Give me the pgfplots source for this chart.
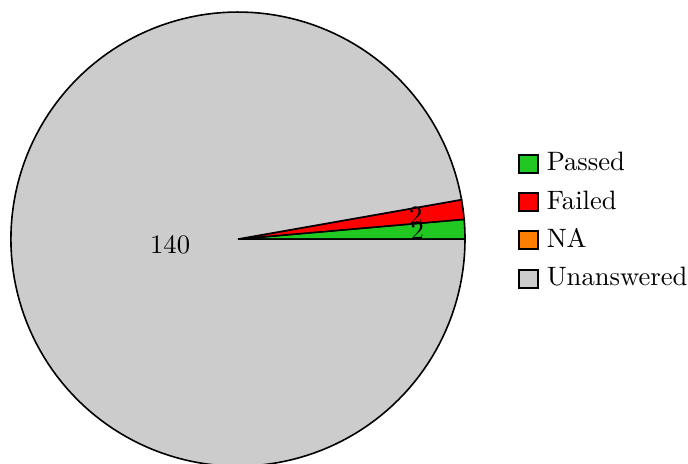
\documentclass[border=0pt]{standalone}
\usepackage{pgfplots}
\usepackage{pgfplotstable}
\pgfplotsset{compat=1.18}
\definecolor{passgreen}{RGB}{34,200,34}
\definecolor{failred}{RGB}{255,0,0}
\definecolor{naorange}{RGB}{255,128,0}
\definecolor{unansgray}{RGB}{204,204,204}
\pgfplotstableread{
label value
Passed 2
Failed 2
NA 0
Unanswered 140
}\piedata
\begin{document}
\begin{tikzpicture}
\pgfplotstablegetelem{0}{value}\of\piedata \let\vA\pgfplotsretval
\pgfplotstablegetelem{1}{value}\of\piedata \let\vB\pgfplotsretval
\pgfplotstablegetelem{2}{value}\of\piedata \let\vC\pgfplotsretval
\pgfplotstablegetelem{3}{value}\of\piedata \let\vD\pgfplotsretval
\pgfmathsetmacro\tot{\vA+\vB+\vC+\vD}
\pgfmathsetmacro\aA{0}
\pgfmathsetmacro\aB{\aA+360*(\vA/\tot)}
\pgfmathsetmacro\aC{\aB+360*(\vB/\tot)}
\pgfmathsetmacro\aD{\aC+360*(\vC/\tot)}
\pgfmathsetmacro\aE{\aD+360*(\vD/\tot)}
\pgfmathsetmacro\mA{(\aA+\aB)/2}
\pgfmathsetmacro\mB{(\aB+\aC)/2}
\pgfmathsetmacro\mD{(\aD+\aE)/2}
\begin{axis}[
  x=3cm, y=3cm,
  xmin=-1.048, xmax=1.982, ymin=-0.987, ymax=1.053,
  hide axis, clip=false,
  legend cell align=left,
  legend style={draw=none, fill=none, inner sep=0pt, at={(axis cs:1.233,0.079)}, anchor=west,
    row sep=1.9pt, font=\normalsize,
    /tikz/every odd column/.append style={column sep=1.1pt}},
  legend image code/.code={\draw[#1,line width=0.75pt] (0pt,-3.4pt) rectangle (6.8pt,3.4pt);},
  every axis plot/.append style={line width=0.6pt, no markers},
]
\addplot[fill=passgreen, draw=black, domain=\aA:\aB, samples=8, variable=\t] ({cos(\t)},{sin(\t)}) -- (axis cs:0,0) -- cycle;
\addlegendentry{Passed}
\addplot[fill=failred, draw=black, domain=\aB:\aC, samples=8, variable=\t] ({cos(\t)},{sin(\t)}) -- (axis cs:0,0) -- cycle;
\addlegendentry{Failed}
\addlegendimage{fill=naorange, draw=black}
\addlegendentry{NA}
\addplot[fill=unansgray, draw=black, domain=\aD:\aE, samples=180, variable=\t] ({cos(\t)},{sin(\t)}) -- (axis cs:0,0) -- cycle;
\addlegendentry{Unanswered}
\node at (axis cs:{0.79*cos(\mA)},{0.79*sin(\mA)}) {\pgfmathprintnumber[precision=0]{\vA}};
\node at (axis cs:{0.79*cos(\mB)},{0.79*sin(\mB)}) {\pgfmathprintnumber[precision=0]{\vB}};
\node at (axis cs:{0.30*cos(\mD)},{0.30*sin(\mD)}) {\pgfmathprintnumber[precision=0]{\vD}};
\coordinate (bbSW) at (axis cs:-1.048,-0.987);
\coordinate (bbNE) at (axis cs:1.982,1.053);
\end{axis}
\pgfresetboundingbox
\path (bbSW) rectangle (bbNE);
\end{tikzpicture}
\end{document}
